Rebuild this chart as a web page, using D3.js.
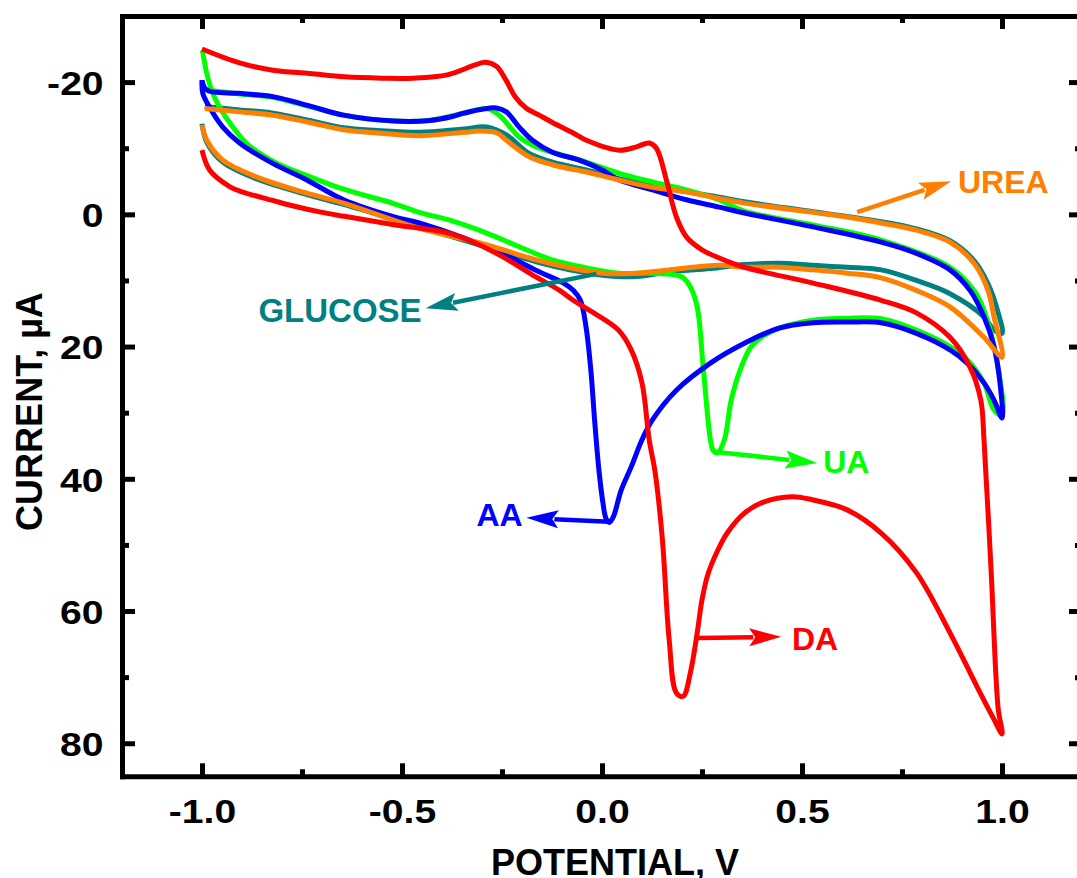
<!DOCTYPE html>
<html>
<head>
<title>CV sensing</title>
<script src="https://d3js.org/d3.v7.min.js"></script>
<style>
body { margin: 0; background: #fff; }
text { font-family: "Liberation Sans", Arial, sans-serif; font-weight: bold; }
</style>
</head>
<body>
<svg class="chart"></svg>
<script>
// scans as [potential (V), current (µA)], forward branch then return branch
var da = [[-1.0,-25.0],[-0.906,-22.9],[-0.823,-21.8],[-0.731,-21.3],[-0.644,-20.8],[-0.55,-20.6],[-0.472,-20.6],[-0.387,-21.1],[-0.317,-22.6],[-0.292,-23.0],[-0.264,-22.4],[-0.240,-20.3],[-0.217,-17.8],[-0.190,-16.1],[-0.157,-15.0],[-0.124,-13.9],[-0.072,-12.3],[-0.039,-11.2],[0.043,-9.7],[0.086,-10.2],[0.118,-10.8],[0.136,-10.0],[0.161,-5.2],[0.186,0.4],[0.211,3.4],[0.251,5.4],[0.293,6.6],[0.356,8.0],[0.528,10.4],[0.698,13.0],[0.786,14.9],[0.870,18.6],[0.920,23.1],[0.947,28.1],[0.955,34.1],[0.973,54.2],[0.990,74.5],[1.0,78.6],
    [0.980,76.4],[0.938,71.5],[0.870,63.3],[0.786,54.2],[0.698,48.2],[0.613,44.7],[0.528,43.2],[0.476,42.7],[0.400,43.6],[0.356,45.2],[0.313,48.2],[0.288,51.0],[0.265,54.4],[0.250,58.3],[0.238,63.3],[0.221,69.3],[0.203,72.9],[0.186,72.4],[0.168,64.4],[0.151,49.2],[0.133,39.1],[0.118,34.1],[0.100,25.5],[0.073,20.5],[0.041,17.5],[-0.029,14.6],[-0.072,13.0],[-0.106,11.5],[-0.164,9.5],[-0.249,6.4],[-0.314,4.4],[-0.386,2.8],[-0.516,1.6],[-0.644,0.3],[-0.700,-0.3],[-0.774,-1.3],[-0.823,-2.1],[-0.900,-3.4],[-0.931,-4.2],[-0.981,-6.7],[-1.0,-9.7]];

var aa = [[-1.0,-20.3],[-0.988,-18.8],[-0.906,-18.3],[-0.823,-17.8],[-0.731,-16.4],[-0.646,-15.0],[-0.519,-14.1],[-0.431,-14.2],[-0.374,-14.8],[-0.346,-15.3],[-0.264,-16.1],[-0.239,-15.5],[-0.207,-13.2],[-0.174,-11.2],[-0.124,-9.4],[-0.057,-8.2],[0.001,-6.7],[0.043,-5.2],[0.126,-3.7],[0.211,-2.2],[0.293,-1.1],[0.356,-0.2],[0.528,1.9],[0.698,4.2],[0.786,5.9],[0.870,8.4],[0.920,11.5],[0.955,15.5],[0.980,20.0],[0.995,25.5],[1.0,30.8],
    [0.980,28.1],[0.955,25.5],[0.913,22.5],[0.870,20.5],[0.786,18.0],[0.698,16.4],[0.613,16.3],[0.528,16.4],[0.443,17.2],[0.356,19.5],[0.271,22.5],[0.186,26.6],[0.126,31.1],[0.100,34.1],[0.073,38.2],[0.048,41.7],[0.028,45.8],[0.018,46.6],[0.010,46.0],[0.002,43.5],[-0.008,38.5],[-0.018,31.5],[-0.028,23.5],[-0.040,17.0],[-0.054,13.0],[-0.072,11.5],[-0.096,10.4],[-0.164,8.5],[-0.249,5.9],[-0.331,3.9],[-0.457,1.3],[-0.519,0.4],[-0.646,-2.2],[-0.738,-5.2],[-0.823,-7.7],[-0.906,-10.8],[-0.948,-13.2],[-0.981,-16.2],[-0.998,-18.3],[-1.0,-20.3]];

var ua = [[-0.988,-18.8],[-0.906,-18.2],[-0.823,-17.7],[-0.731,-16.3],[-0.646,-15.0],[-0.519,-14.1],[-0.431,-14.2],[-0.346,-15.3],[-0.289,-16.0],[-0.257,-15.0],[-0.207,-11.7],[-0.164,-10.2],[-0.039,-7.9],[0.043,-6.2],[0.126,-4.9],[0.211,-3.7],[0.293,-2.2],[0.356,-0.5],[0.528,1.6],[0.698,3.9],[0.870,8.0],[0.930,11.5],[0.955,14.5],[0.990,23.1],[1.0,30.4],
    [0.980,29.6],[0.955,25.5],[0.913,22.0],[0.870,20.0],[0.786,17.5],[0.698,15.8],[0.613,15.7],[0.528,16.0],[0.443,17.2],[0.400,18.5],[0.373,20.0],[0.348,23.1],[0.323,28.1],[0.306,34.1],[0.288,36.1],[0.278,35.7],[0.271,34.1],[0.253,23.1],[0.238,14.0],[0.221,11.0],[0.203,9.6],[0.186,9.2],[0.126,8.9],[0.043,8.9],[-0.039,8.1],[-0.124,6.9],[-0.207,4.9],[-0.290,2.8],[-0.375,1.0],[-0.457,-0.3],[-0.519,-1.6],[-0.646,-3.8],[-0.731,-5.7],[-0.818,-7.9],[-0.886,-10.6],[-0.923,-13.2],[-0.956,-16.2],[-0.976,-18.8],[-0.988,-21.3],[-0.999,-24.8]];

var urea = [[-0.993,-16.0],[-0.906,-15.5],[-0.823,-15.0],[-0.731,-13.9],[-0.646,-12.8],[-0.561,-12.3],[-0.457,-11.9],[-0.346,-12.4],[-0.306,-12.6],[-0.262,-12.3],[-0.239,-11.2],[-0.182,-8.7],[-0.124,-7.5],[-0.039,-6.4],[0.043,-5.2],[0.126,-4.1],[0.211,-3.4],[0.293,-2.4],[0.356,-1.7],[0.528,-0.3],[0.613,0.4],[0.698,1.3],[0.786,2.4],[0.870,4.2],[0.930,7.4],[0.965,11.5],[0.980,15.5],[1.0,21.6],
    [0.955,18.6],[0.870,14.0],[0.786,11.5],[0.698,9.6],[0.613,8.9],[0.528,8.4],[0.443,8.0],[0.356,8.0],[0.293,7.7],[0.168,8.4],[0.086,8.9],[0.001,8.9],[-0.081,8.1],[-0.164,6.9],[-0.290,4.6],[-0.457,2.1],[-0.516,1.0],[-0.646,-1.7],[-0.738,-3.2],[-0.861,-5.6],[-0.948,-8.2],[-0.988,-11.2],[-1.0,-13.5]];

var glucose = [[-0.993,-16.3],[-0.906,-15.8],[-0.823,-15.3],[-0.731,-14.2],[-0.646,-13.1],[-0.561,-12.7],[-0.457,-12.4],[-0.346,-12.9],[-0.289,-13.2],[-0.239,-12.0],[-0.182,-9.2],[-0.124,-7.9],[-0.039,-6.7],[0.043,-5.4],[0.126,-4.4],[0.211,-3.4],[0.293,-2.6],[0.356,-1.9],[0.528,-0.4],[0.698,1.1],[0.786,2.2],[0.870,4.0],[0.930,7.0],[0.965,10.5],[0.990,14.8],[1.0,18.0],
    [0.980,17.5],[0.955,15.5],[0.870,12.0],[0.786,10.0],[0.698,8.4],[0.613,8.0],[0.528,7.7],[0.443,7.4],[0.356,7.6],[0.271,8.2],[0.168,8.7],[0.086,9.4],[0.001,9.2],[-0.081,8.4],[-0.164,7.2],[-0.290,4.9],[-0.457,1.9],[-0.646,-1.5],[-0.738,-3.0],[-0.861,-5.3],[-0.948,-7.9],[-0.988,-10.9],[-1.0,-13.7]];

// draw order: bottom first
var seriesNames = ["GLUCOSE", "UA", "AA", "UREA", "DA"];
var seriesData = [glucose, ua, aa, urea, da];
var seriesColors = ["#008080", "#00ff00", "#0000ff", "#ff8000", "#ff0000"];

var xTicks = [-1.0, -0.5, 0.0, 0.5, 1.0];
var xMinor = [-0.75, -0.25, 0.25, 0.75];
var yTicks = [-20, 0, 20, 40, 60, 80];
var yMinor = [-10, 10, 30, 50, 70];

// annotation arrows, in data units: text spot, arrow tail, arrow tip
var labelPos = [[-0.859,16.3], [0.553,39.1], [-0.314,47.1], [0.890,-3.2], [0.475,65.9]];
var arrowFrom = [[-0.014,9.0], [0.280,35.9], [0.018,46.5], [0.638,-0.35], [0.240,64.1]];
var arrowTo = [[-0.441,14.2], [0.538,37.6], [-0.189,45.9], [0.873,-5.0], [0.448,63.9]];

var svgWidth = 1077, svgHeight = 878;
var plotLeft = 122, plotRight = 1082, plotTop = 16, plotBottom = 776.3;

var svg = d3.select(".chart").attr("width", svgWidth).attr("height", svgHeight);

var xScale = d3.scaleLinear().domain([-1.2, 1.2]).range([plotLeft, plotRight]);
var yScale = d3.scaleLinear().domain([-30, 85]).range([plotTop, plotBottom]);

var line = d3.line()
    .x(function(d) { return xScale(d[0]); })
    .y(function(d) { return yScale(d[1]); })
    .curve(d3.curveCatmullRom.alpha(0.5));

// curves
svg.append("g").selectAll("path")
    .data(seriesData).enter().append("path")
        .attr("d", line)
        .attr("fill", "none")
        .attr("stroke", function(d, i) { return seriesColors[i]; })
        .attr("stroke-width", 5)
        .attr("stroke-linejoin", "round");

// axes
function styleAxis(g) {
    g.attr("font-size", 34).attr("font-family", null);
    g.select(".domain").attr("stroke-width", 5).attr("stroke-linecap", "square");
    g.selectAll(".tick line").attr("stroke-width", 5);
}
function minor(g) {
    g.select(".domain").remove();
    g.selectAll(".tick line").attr("stroke-width", 5);
}

svg.append("g").attr("transform", "translate(0," + plotBottom + ")")
    .call(d3.axisBottom(xScale).tickValues(xTicks).tickSize(-13).tickSizeOuter(0)
        .tickFormat(function(d) { return d.toFixed(1); }))
    .call(styleAxis)
    .selectAll("text").attr("y", 47).attr("dy", 0).attr("transform", "scale(1.15,1)");
svg.append("g").attr("transform", "translate(0," + plotBottom + ")")
    .call(d3.axisBottom(xScale).tickValues(xMinor).tickSize(-7).tickFormat(""))
    .call(minor);

svg.append("g").attr("transform", "translate(0," + plotTop + ")")
    .call(d3.axisTop(xScale).tickValues(xTicks).tickSize(-13).tickSizeOuter(0).tickFormat(""))
    .call(styleAxis);
svg.append("g").attr("transform", "translate(0," + plotTop + ")")
    .call(d3.axisTop(xScale).tickValues(xMinor).tickSize(-7).tickFormat(""))
    .call(minor);

svg.append("g").attr("transform", "translate(" + plotLeft + ",0)")
    .call(d3.axisLeft(yScale).tickValues(yTicks).tickSize(-13).tickSizeOuter(0).tickPadding(16)
        .tickFormat(function(d) { return String(d); }))
    .call(styleAxis)
    .selectAll("text").attr("dy", "0.36em").attr("transform", "scale(1.15,1)");
svg.append("g").attr("transform", "translate(" + plotLeft + ",0)")
    .call(d3.axisLeft(yScale).tickValues(yMinor).tickSize(-7).tickFormat(""))
    .call(minor);

svg.append("g").attr("transform", "translate(" + plotRight + ",0)")
    .call(d3.axisRight(yScale).tickValues(yTicks).tickSize(-13).tickSizeOuter(0).tickFormat(""))
    .call(styleAxis);
svg.append("g").attr("transform", "translate(" + plotRight + ",0)")
    .call(d3.axisRight(yScale).tickValues(yMinor).tickSize(-7).tickFormat(""))
    .call(minor);

// axis titles
svg.append("text")
    .attr("x", 615).attr("y", 875)
    .attr("text-anchor", "middle")
    .attr("font-size", 36)
    .text("POTENTIAL, V");
svg.append("text")
    .attr("transform", "translate(42,411.5) rotate(-90)")
    .attr("text-anchor", "middle")
    .attr("font-size", 36)
    .text("CURRENT, \u00b5A");

// labels with arrows
var head = 32, halfW = 9;
var notes = svg.append("g");
seriesNames.forEach(function(name, i) {
    var c = seriesColors[i];
    var x0 = xScale(arrowFrom[i][0]), y0 = yScale(arrowFrom[i][1]);
    var x1 = xScale(arrowTo[i][0]), y1 = yScale(arrowTo[i][1]);
    var len = Math.hypot(x1 - x0, y1 - y0);
    var ux = (x1 - x0) / len, uy = (y1 - y0) / len;
    var bx = x1 - ux * head, by = y1 - uy * head;
    notes.append("line")
        .attr("x1", x0).attr("y1", y0).attr("x2", bx + ux * 4).attr("y2", by + uy * 4)
        .attr("stroke", c).attr("stroke-width", 4.5);
    notes.append("path")
        .attr("d", "M" + x1 + "," + y1 +
            "L" + (bx - uy * halfW) + "," + (by + ux * halfW) +
            "L" + (bx + ux * 6) + "," + (by + uy * 6) +
            "L" + (bx + uy * halfW) + "," + (by - ux * halfW) + "Z")
        .attr("fill", c);
    notes.append("text")
        .attr("x", xScale(labelPos[i][0])).attr("y", yScale(labelPos[i][1]))
        .attr("font-size", name == "GLUCOSE" ? 33 : 32)
        .attr("fill", c)
        .text(name);
});
</script>
</body>
</html>
